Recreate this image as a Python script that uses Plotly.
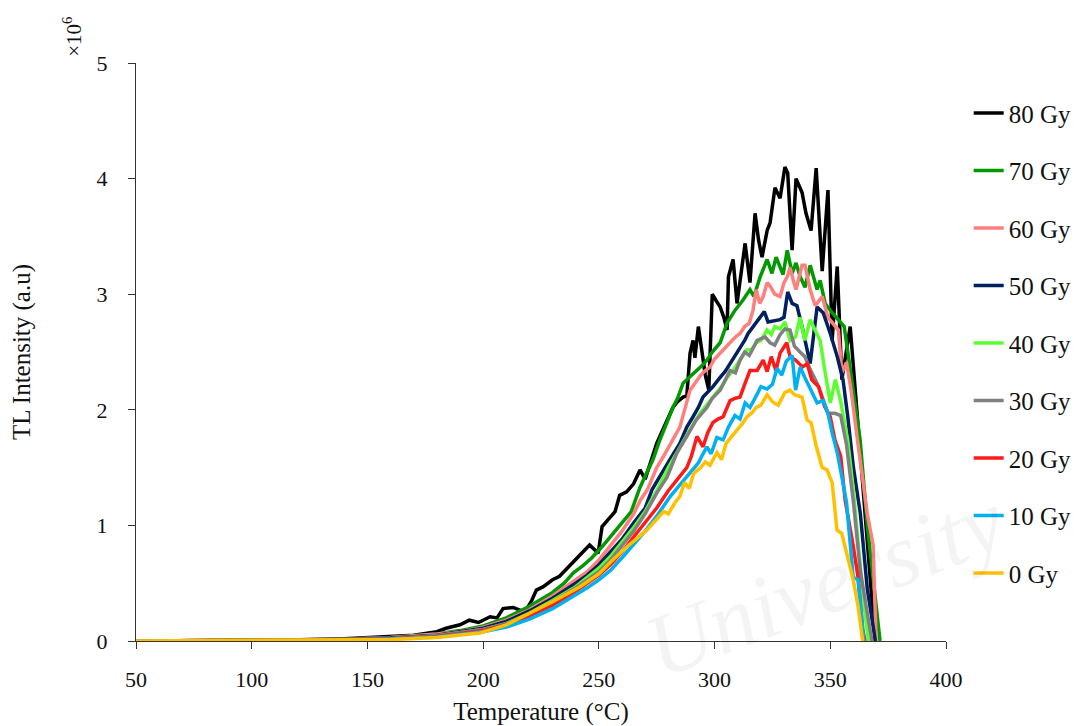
import plotly.graph_objects as go

# Temperatures (°C) and TL intensities (x10^6 a.u.)
t80 = [50, 80, 100, 120, 140, 160, 170, 180, 184, 190, 194, 198, 203, 206, 208.6, 213, 216, 218, 221, 223, 226, 230, 233, 236, 238.8, 243, 246, 249.7, 251.4, 254, 257, 259, 262, 265, 267.8, 270, 273, 275, 277, 279.5, 282, 284, 286.4, 288, 289.4, 290.7, 291.5, 293, 294.5, 296, 297.5, 299, 300.5, 302.4, 304, 305.4, 306, 308, 309.7, 311.5, 313.2, 315.3, 317.5, 319, 320.5, 322.7, 324, 326.1, 328.3, 330.4, 331.6, 333.5, 335.2, 337.8, 339.5, 341.7, 343.9, 346.5, 349, 350.8, 353, 355, 358.6, 362.5, 366, 369.4]
v80 = [0, 0.002, 0.005, 0.01, 0.02, 0.04, 0.05, 0.08, 0.11, 0.14, 0.18, 0.16, 0.21, 0.2, 0.28, 0.29, 0.27, 0.25, 0.35, 0.44, 0.47, 0.53, 0.56, 0.62, 0.68, 0.76, 0.83, 0.76, 0.99, 1.05, 1.12, 1.26, 1.29, 1.36, 1.48, 1.40, 1.59, 1.71, 1.8, 1.91, 2.02, 2.07, 2.11, 2.12, 2.49, 2.6, 2.45, 2.72, 2.5, 2.3, 2.17, 3.0, 2.95, 2.89, 2.8, 2.69, 3.15, 3.3, 2.92, 3.2, 3.44, 3.1, 3.7, 3.47, 3.32, 3.55, 3.62, 3.92, 3.83, 4.1, 4.05, 3.38, 4.0, 3.88, 3.7, 3.55, 4.09, 3.2, 3.9, 2.6, 3.24, 2.26, 2.72, 1.74, 0.9, 0]

t70 = [50, 100, 140, 160, 180, 190, 200, 210, 220, 225, 230, 235, 239, 243, 247, 252, 256, 260, 264, 267.8, 270, 273.4, 276, 279, 282, 284, 286.4, 289, 292.4, 294.5, 296.7, 299, 302.4, 305.4, 308.8, 312.3, 315.3, 317, 319.7, 322.7, 324.8, 326.6, 329.6, 331.4, 333.5, 335.2, 337, 339.1, 341.3, 344.3, 345.6, 347.8, 350.8, 353.5, 356, 359, 362.9, 366, 369, 371.5]
v70 = [0, 0.004, 0.015, 0.03, 0.06, 0.09, 0.13, 0.2, 0.3, 0.36, 0.42, 0.5, 0.59, 0.65, 0.72, 0.83, 0.93, 1.02, 1.12, 1.33, 1.42, 1.57, 1.72, 1.88, 2.02, 2.1, 2.23, 2.28, 2.34, 2.38, 2.43, 2.5, 2.58, 2.75, 2.86, 2.95, 3.04, 2.98, 3.15, 3.3, 3.18, 3.32, 3.17, 3.38, 3.18, 3.27, 3.15, 3.06, 3.25, 3.04, 3.12, 2.92, 2.84, 2.78, 2.72, 2.3, 1.74, 1.0, 0.45, 0]

t60 = [50, 100, 140, 160, 180, 190, 200, 210, 220, 230, 240, 245, 250, 255, 260, 265, 268, 271, 275, 278, 282, 285, 289.4, 292, 294, 296, 298, 300, 302.4, 304.5, 306.7, 309, 311, 313, 315, 316.6, 318, 319.5, 321, 322.7, 324, 326, 328.3, 330, 331.4, 332.6, 334, 335.2, 337.8, 339.1, 341.3, 343.5, 346.5, 349, 353.5, 355, 357, 359, 362, 366, 368.5, 369.8]
v60 = [0, 0.004, 0.015, 0.03, 0.06, 0.08, 0.12, 0.18, 0.27, 0.39, 0.53, 0.6, 0.7, 0.82, 0.95, 1.1, 1.22, 1.31, 1.5, 1.6, 1.75, 1.85, 2.17, 2.25, 2.3, 2.34, 2.37, 2.44, 2.49, 2.53, 2.58, 2.63, 2.66, 2.72, 2.75, 2.86, 3.04, 2.92, 2.98, 3.1, 3.07, 3.0, 2.98, 3.1, 3.15, 3.23, 3.12, 3.04, 3.25, 3.25, 3.04, 2.9, 2.98, 2.8, 2.69, 2.32, 2.41, 2.17, 1.7, 1.1, 0.83, 0]

t50 = [50, 140, 160, 180, 200, 210, 220, 230, 240, 245, 250, 255, 260, 265, 270, 273, 277, 281, 285, 288, 290.7, 293, 295, 297, 299.3, 302.4, 304.5, 306.7, 309, 311, 313, 314.5, 316.6, 318, 319.7, 321.5, 323.1, 325.5, 328.3, 330, 331.6, 333.5, 335.6, 337.8, 341.3, 344.3, 346.9, 350, 353, 355.5, 357.5, 360, 363, 366, 369.5]
v50 = [0, 0.012, 0.025, 0.05, 0.11, 0.17, 0.26, 0.37, 0.5, 0.57, 0.66, 0.77, 0.88, 1.02, 1.15, 1.31, 1.45, 1.58, 1.71, 1.85, 1.94, 2.02, 2.11, 2.15, 2.2, 2.28, 2.33, 2.4, 2.47, 2.54, 2.6, 2.66, 2.72, 2.76, 2.8, 2.85, 2.76, 2.77, 2.78, 2.8, 3.02, 2.92, 2.9, 2.72, 2.4, 2.89, 2.84, 2.66, 2.46, 2.26, 1.95, 1.5, 1.1, 0.45, 0]

t40 = [50, 140, 160, 180, 200, 210, 220, 230, 240, 245, 250, 255, 260, 265, 270, 275, 280, 285, 290, 293.7, 296, 298, 301, 303, 305.5, 308, 310, 312, 314, 316, 318, 320, 322.7, 324.5, 326, 328.3, 330.4, 332.6, 335, 336.9, 339, 341.3, 343.5, 345.6, 347.8, 350, 352.2, 354.4, 357.5, 360, 362.5, 364, 366.5]
v40 = [0, 0.01, 0.02, 0.045, 0.1, 0.15, 0.24, 0.35, 0.47, 0.55, 0.63, 0.73, 0.85, 0.98, 1.12, 1.3, 1.5, 1.68, 1.85, 1.97, 2.03, 2.08, 2.15, 2.2, 2.28, 2.34, 2.4, 2.45, 2.52, 2.52, 2.58, 2.6, 2.69, 2.65, 2.72, 2.7, 2.76, 2.6, 2.63, 2.8, 2.6, 2.78, 2.69, 2.6, 2.32, 2.06, 2.26, 2.08, 1.74, 1.3, 0.75, 0.4, 0]

t30 = [50, 140, 160, 180, 200, 210, 220, 230, 240, 245, 250, 255, 260, 265, 270, 275, 279.5, 283.8, 288, 292, 296.7, 299, 302.4, 304.5, 306.7, 309, 311, 313, 315, 318.4, 321.8, 324, 326, 328.3, 330.4, 332.6, 334.5, 336.9, 339, 341.3, 344.3, 346.5, 349, 352, 354.5, 357, 360, 363, 368]
v30 = [0, 0.01, 0.02, 0.045, 0.1, 0.15, 0.23, 0.34, 0.46, 0.53, 0.6, 0.7, 0.82, 0.95, 1.1, 1.28, 1.42, 1.63, 1.77, 1.91, 2.02, 2.1, 2.17, 2.26, 2.34, 2.32, 2.43, 2.5, 2.47, 2.6, 2.63, 2.58, 2.56, 2.65, 2.7, 2.69, 2.55, 2.5, 2.46, 2.35, 2.23, 2.11, 1.97, 1.97, 1.95, 1.7, 1.2, 0.6, 0]

t20 = [50, 140, 160, 180, 200, 210, 220, 230, 240, 245, 250, 255, 260, 265, 270, 275, 280, 283.8, 288, 290, 292.4, 295, 297, 299.3, 301.5, 303.7, 306.7, 309, 311, 313, 315.3, 318.4, 321, 322.7, 324.5, 326.5, 328.3, 331.2, 332.6, 335, 338, 340, 342, 345, 347.5, 350, 352, 354.5, 356.4, 360, 362, 364, 365]
v20 = [0, 0.01, 0.02, 0.04, 0.09, 0.14, 0.21, 0.31, 0.43, 0.5, 0.57, 0.66, 0.77, 0.9, 1.02, 1.15, 1.3, 1.39, 1.5, 1.6, 1.77, 1.68, 1.8, 1.89, 1.92, 1.94, 2.08, 2.1, 2.11, 2.22, 2.34, 2.34, 2.43, 2.33, 2.46, 2.34, 2.49, 2.58, 2.46, 2.43, 2.37, 2.4, 2.26, 2.2, 2.03, 1.94, 1.74, 1.6, 1.22, 0.81, 0.55, 0.1, 0]

t10 = [50, 140, 160, 180, 200, 210, 220, 230, 240, 245, 250, 255, 260, 265, 270, 275, 280.8, 285, 289, 293, 294.5, 296.7, 298.5, 301, 303.7, 306, 308.8, 311, 313.2, 315.3, 318, 320, 322.7, 325, 327, 329, 331, 333.5, 335, 337, 339, 341, 344.3, 346.9, 349, 350.8, 353, 355, 357, 359.9, 362, 364.5]
v10 = [0, 0.008, 0.018, 0.035, 0.08, 0.12, 0.19, 0.28, 0.4, 0.46, 0.53, 0.61, 0.72, 0.83, 0.95, 1.08, 1.25, 1.35, 1.45, 1.54, 1.6, 1.68, 1.62, 1.76, 1.74, 1.85, 1.95, 1.92, 2.06, 2.02, 2.12, 2.2, 2.18, 2.22, 2.36, 2.3, 2.42, 2.47, 2.17, 2.37, 2.28, 2.2, 2.06, 2.08, 1.97, 1.8, 1.63, 1.42, 1.2, 0.55, 0.53, 0]

t0 = [50, 140, 160, 180, 198.7, 210, 220, 230, 241.9, 250, 256, 263, 270.8, 275, 278, 280, 283, 285, 287, 289, 291, 294, 296, 298, 301, 303, 305, 307, 310, 312, 314, 316, 318, 320, 322.7, 325, 327.5, 330.4, 332.6, 334.5, 337.8, 340, 341.7, 344, 346.5, 348.6, 350.8, 352.9, 355, 358, 359.9, 362, 364]
v0 = [0, 0.005, 0.012, 0.03, 0.07, 0.14, 0.24, 0.34, 0.47, 0.58, 0.7, 0.83, 0.96, 1.05, 1.12, 1.1, 1.2, 1.25, 1.37, 1.32, 1.45, 1.5, 1.55, 1.52, 1.63, 1.57, 1.71, 1.76, 1.83, 1.88, 1.94, 1.97, 2.02, 2.04, 2.13, 2.07, 2.04, 2.15, 2.17, 2.13, 2.11, 1.91, 1.89, 1.68, 1.5, 1.48, 1.37, 0.96, 0.93, 0.7, 0.53, 0.3, 0]

series = [
    ("80 Gy", t80, v80, "#000000"),
    ("70 Gy", t70, v70, "#009900"),
    ("60 Gy", t60, v60, "#FF7F7F"),
    ("50 Gy", t50, v50, "#002060"),
    ("40 Gy", t40, v40, "#5CFF2E"),
    ("30 Gy", t30, v30, "#808080"),
    ("20 Gy", t20, v20, "#FF1A1A"),
    ("10 Gy", t10, v10, "#00B0F0"),
    ("0 Gy", t0, v0, "#FFC000"),
]

x_ticks = [50, 100, 150, 200, 250, 300, 350, 400]
y_ticks = [0, 1, 2, 3, 4, 5]

FONT = "Liberation Serif"

fig = go.Figure()
for i, (name, t, v, c) in enumerate(series):
    fig.add_trace(go.Scatter(x=t, y=v, mode="lines", name=name,
                             legendgroup=f"g{i}",
                             line=dict(color=c, width=3.5)))

fig.update_layout(
    width=1077, height=718,
    margin=dict(l=128, r=139, t=55, b=85, autoexpand=False),
    paper_bgcolor="white", plot_bgcolor="white",
    font=dict(family=FONT, size=21, color="#111"),
    showlegend=True,
    legend=dict(x=1.028, xanchor="left", y=0.953, yanchor="top",
                tracegroupgap=22, font=dict(family=FONT, size=25),
                bgcolor="rgba(0,0,0,0)"),
    xaxis=dict(range=[50, 400], tickvals=x_ticks, ticks="outside", ticklen=7,
               tickcolor="#333", showline=True, linecolor="#333", linewidth=1,
               showgrid=False, zeroline=False, automargin=False,
               ticklabelstandoff=12,
               tickfont=dict(family=FONT, size=22),
               title=dict(text="Temperature (°C)", font=dict(family=FONT, size=25), standoff=14)),
    yaxis=dict(range=[0, 5], tickvals=y_ticks, ticks="outside", ticklen=7,
               tickcolor="#333", showline=True, linecolor="#333", linewidth=1,
               showgrid=False, zeroline=False, ticklabelstandoff=16, automargin=False,
               tickfont=dict(family=FONT, size=22),
               title=dict(text="TL Intensity (a.u)", font=dict(family=FONT, size=25), standoff=62)),
)

fig.add_annotation(text="×10<sup>6</sup>", xref="paper", yref="paper",
                   x=-0.078, y=1.045, textangle=-90, showarrow=False,
                   xanchor="center", yanchor="middle",
                   font=dict(family=FONT, size=21, color="#111"))

fig.add_annotation(text="<i>University</i>", xref="paper", yref="paper",
                   x=0.85, y=0.1, textangle=-21, showarrow=False,
                   xanchor="center", yanchor="middle",
                   font=dict(family=FONT, size=90, color="rgba(0,0,0,0.045)"))

fig.write_html("out.html")
